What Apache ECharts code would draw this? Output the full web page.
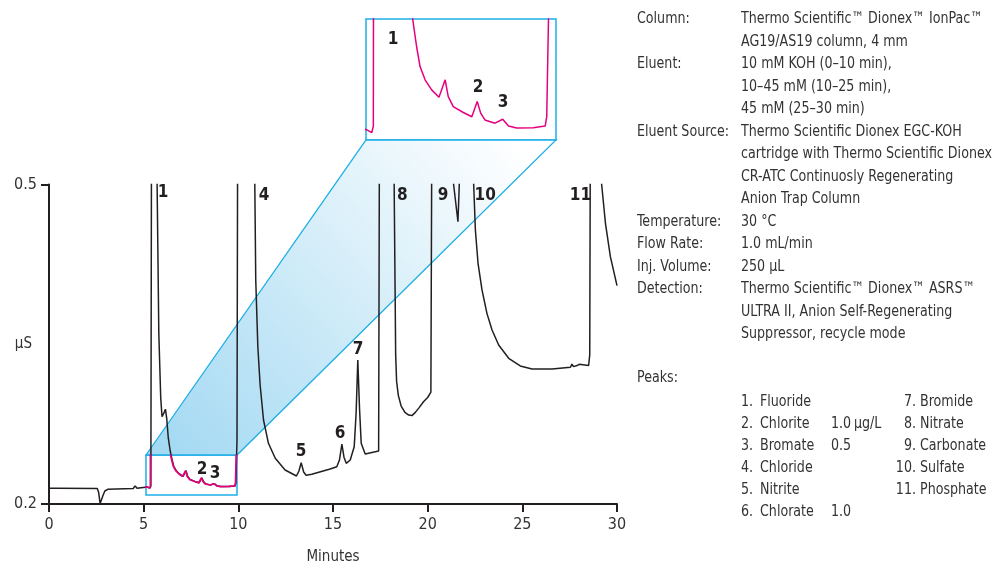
<!DOCTYPE html>
<html>
<head>
<meta charset="utf-8">
<script src="https://cdn.jsdelivr.net/npm/echarts@6/dist/echarts.min.js"></script>
<style>
html,body{margin:0;padding:0;background:#fff;}
#chart{width:999px;height:565px;}
</style>
</head>
<body>
<div id="chart"></div>
<script>
// ---- data ----
const minutes = [
  0.00, 0.25, 0.32, 0.40, 2.55, 2.62, 2.70, 2.78, 2.86, 2.95, 3.10, 4.45, 4.55, 4.65,
  5.19, 5.34, 5.38, 5.42, 5.55, 5.68, 5.71, 5.80, 5.90, 5.97, 6.06, 6.15, 6.22, 6.30,
  6.40, 6.50, 6.59, 6.72, 6.89, 7.08, 7.24, 7.32, 7.45, 7.71, 7.93, 8.07, 8.16, 8.27,
  8.53, 8.73, 8.88, 9.09, 9.52, 9.83, 9.87, 9.93, 9.97, 10.40, 10.84, 10.87, 10.92,
  11.03, 11.15, 11.33, 11.59, 11.95, 12.47, 13.07, 13.20, 13.32, 13.45, 13.58, 13.88, 14.85,
  15.20, 15.34, 15.47, 15.58, 15.70, 15.91, 16.12, 16.22, 16.31, 16.40, 16.49, 16.70,
  17.41, 17.46, 17.85, 18.20, 18.23, 18.28, 18.31, 18.36, 18.45, 18.60, 18.80, 19.00,
  19.17, 19.35, 19.55, 19.78, 20.00, 20.17, 20.23, 20.60, 21.30, 21.37, 21.60, 21.67,
  21.70, 22.00, 22.40, 22.43, 22.52, 22.66, 22.87, 23.13, 23.40, 23.75, 24.28, 24.89,
  25.51, 26.57, 27.54, 27.62, 27.70, 27.89, 28.00, 28.06, 28.50, 28.56, 28.60, 28.90,
  29.16, 29.19, 29.39, 29.65, 30.00
];
const microS = [
  0.2147, 0.2147, 0.2163, 0.2147, 0.2145, 0.2110, 0.2005, 0.2010, 0.2085, 0.2122, 0.2138, 0.2145, 0.2170, 0.2148,
  0.2160, 0.2150, 0.2170, 0.6, 3.0, 0.6, 0.50, 0.36, 0.300, 0.282, 0.285, 0.289, 0.280, 0.262,
  0.2500, 0.2416, 0.2354, 0.2313, 0.2282, 0.2259, 0.2313, 0.2261, 0.2230, 0.2212, 0.2199, 0.2246, 0.2210, 0.2189,
  0.2179, 0.2191, 0.2170, 0.2164, 0.2165, 0.2170, 0.2199, 0.2600, 0.6, 3.0, 0.6, 0.50, 0.4103,
  0.3477, 0.3120, 0.2789, 0.2570, 0.2429, 0.2319, 0.2263, 0.2310, 0.2388, 0.2300, 0.2270, 0.2279, 0.2329,
  0.2350, 0.2413, 0.2563, 0.2440, 0.2382, 0.2413, 0.2538, 0.2850, 0.3352, 0.2900, 0.2570, 0.2469,
  0.2498, 0.6, 3.0, 0.6, 0.50, 0.40, 0.34, 0.315, 0.302, 0.292, 0.286, 0.2835,
  0.2830, 0.2860, 0.2905, 0.2960, 0.3000, 0.3050, 0.6, 3.0, 0.6, 0.50, 0.465, 0.50,
  0.6, 3.0, 0.6, 0.50, 0.4573, 0.4260, 0.4010, 0.3790, 0.3634, 0.3493, 0.3368, 0.3296,
  0.3268, 0.3268, 0.3284, 0.3314, 0.3290, 0.3300, 0.3312, 0.3300, 0.3300, 0.3400, 0.6, 3.0,
  0.6, 0.50, 0.4636, 0.4322, 0.4050
];
const xTicks = [0, 5, 10, 15, 20, 25, 30];
const yTicks = [0.2, 0.5];
const mainPeakLabels = ['1', '4', '5', '6', '7', '8', '9', '10', '11', '2', '3'];
const insetPeakLabels = ['1', '2', '3'];

const conditions = [
  ['Column:', 'Thermo Scientific\u2122 Dionex\u2122 IonPac\u2122'],
  ['', 'AG19/AS19 column, 4 mm'],
  ['Eluent:', '10 mM KOH (0\u201310 min),'],
  ['', '10\u201345 mM (10\u201325 min),'],
  ['', '45 mM (25\u201330 min)'],
  ['Eluent Source:', 'Thermo Scientific Dionex EGC-KOH'],
  ['', 'cartridge with Thermo Scientific Dionex'],
  ['', 'CR-ATC Continuosly Regenerating'],
  ['', 'Anion Trap Column'],
  ['Temperature:', '30 \u00B0C'],
  ['Flow Rate:', '1.0 mL/min'],
  ['Inj. Volume:', '250 \u00B5L'],
  ['Detection:', 'Thermo Scientific\u2122 Dionex\u2122 ASRS\u2122'],
  ['', 'ULTRA II, Anion Self-Regenerating'],
  ['', 'Suppressor, recycle mode']
];
const peaksLeft = [
  ['1.', 'Fluoride', '', ''],
  ['2.', 'Chlorite', '1.0', '\u00B5g/L'],
  ['3.', 'Bromate', '0.5', ''],
  ['4.', 'Chloride', '', ''],
  ['5.', 'Nitrite', '', ''],
  ['6.', 'Chlorate', '1.0', '']
];
const peaksRight = [
  ['7.', 'Bromide'],
  ['8.', 'Nitrate'],
  ['9.', 'Carbonate'],
  ['10.', 'Sulfate'],
  ['11.', 'Phosphate']
];

// ---- layout / style ----
const FONT = '"Liberation Sans Narrow", "DejaVu Sans Condensed", "Roboto", sans-serif';
const BLACK = '#231f20';
const PINK = '#e6007e';
const CYAN = '#1daee6';
const TXT = '#333333';
const SX = 0.88; // horizontal squeeze for the condensed look of the notes

const main = { left: 49, top: 184.5, width: 568, height: 319.5 };
const box = { left: 146, top: 455, width: 91, height: 40 };
const inset = { left: 366, top: 19, width: 190, height: 121 };

// label anchor positions in data coordinates (not data values)
const mainLabelAnchors = [
  [6.03, 0.492], [11.36, 0.490], [13.32, 0.249], [15.38, 0.266], [16.33, 0.3446],
  [18.66, 0.490], [20.82, 0.490], [23.04, 0.490], [28.07, 0.490], [8.09, 0.232], [8.77, 0.229]
];
const insetLabelAnchors = [[5.89, 0.2437], [8.09, 0.2288], [8.74, 0.2242]];

const series = minutes.map((t, i) => [t, microS[i]]);

const chart = echarts.init(document.getElementById('chart'), null, { renderer: 'canvas' });

const graphics = [];
// zoom connector (parallelogram)
graphics.push({
  type: 'polygon',
  z: 1,
  shape: {
    points: [
      [box.left, box.top],
      [inset.left, inset.top + inset.height],
      [inset.left + inset.width, inset.top + inset.height],
      [box.left + box.width, box.top]
    ]
  },
  style: {
    fill: {
      type: 'linear', global: true,
      x: box.left + 20, y: box.top, x2: inset.left + inset.width - 40, y2: inset.top + inset.height,
      colorStops: [
        { offset: 0, color: '#a3d9f3' },
        { offset: 0.55, color: '#d6eef9' },
        { offset: 1, color: '#ffffff' }
      ]
    },
    stroke: CYAN,
    lineWidth: 1.3
  }
});

function note(text, x, y, align) {
  graphics.push({
    type: 'text', z: 5, x: x, y: y, scaleX: SX, scaleY: 1,
    style: { text: text, x: 0, y: 0, font: '16px ' + FONT, fill: TXT, verticalAlign: 'middle', align: align || 'left' }
  });
}

// conditions text
const lineH = 22.5;
conditions.forEach((row, i) => {
  const y = 19 + i * lineH;
  if (row[0]) note(row[0], 637, y);
  note(row[1], 741, y);
});
note('Peaks:', 637, 378);
peaksLeft.forEach((row, i) => {
  const y = 401.5 + i * 22.1;
  note(row[0], 741, y);
  note(row[1], 760, y);
  if (row[2]) note(row[2], 831, y);
  if (row[3]) note(row[3], 854, y);
});
peaksRight.forEach((row, i) => {
  const y = 401.5 + i * 22.1;
  note(row[0], 916, y, 'right');
  note(row[1], 920, y);
});

const labelStyle = {
  show: true, position: 'inside', formatter: p => p.data.name, opacity: 1,
  color: BLACK, fontFamily: FONT, fontWeight: 'bold', fontSize: 17
};

const option = {
  animation: false,
  backgroundColor: '#fff',
  grid: [
    Object.assign({}, main, { show: false, outerBoundsMode: 'none', containLabel: false }),
    Object.assign({}, box, { show: true, borderColor: CYAN, borderWidth: 1.5, backgroundColor: 'transparent', z: 0, outerBoundsMode: 'none' }),
    Object.assign({}, inset, { show: true, borderColor: CYAN, borderWidth: 1.5, backgroundColor: '#ffffff', z: 0, outerBoundsMode: 'none' })
  ],
  xAxis: [
    {
      gridIndex: 0, type: 'value', min: xTicks[0], max: xTicks[xTicks.length - 1], interval: 5,
      name: 'Minutes', nameLocation: 'middle', nameGap: 46, nameMoveOverlap: false,
      nameTextStyle: { fontFamily: FONT, fontSize: 15, color: TXT },
      axisLine: { show: true, onZero: false, lineStyle: { color: BLACK, width: 2 } },
      axisTick: { show: true, length: 8, lineStyle: { color: BLACK, width: 2 } },
      axisLabel: { fontFamily: FONT, fontSize: 16, color: TXT, margin: 13 },
      splitLine: { show: false }
    },
    { gridIndex: 1, type: 'value', min: 5.15, max: 9.95, show: false },
    { gridIndex: 2, type: 'value', min: 5.19, max: 10.11, show: false }
  ],
  yAxis: [
    {
      gridIndex: 0, type: 'value', min: 0.2, max: 0.5,
      name: '\u00B5S', nameLocation: 'middle', nameRotate: 0, nameGap: 17, nameMoveOverlap: false,
      nameTextStyle: { fontFamily: FONT, fontSize: 15, color: TXT },
      axisLine: { show: true, onZero: false, lineStyle: { color: BLACK, width: 2 } },
      axisTick: { show: true, length: 8, lineStyle: { color: BLACK, width: 2 }, customValues: yTicks },
      axisLabel: { fontFamily: FONT, fontSize: 16, color: TXT, margin: 12, customValues: yTicks, formatter: v => v.toFixed(1) },
      splitLine: { show: false }
    },
    { gridIndex: 1, type: 'value', min: 0.2085, max: 0.246, show: false },
    { gridIndex: 2, type: 'value', min: 0.2127, max: 0.2501, show: false }
  ],
  graphic: graphics,
  series: [
    {
      type: 'line', xAxisIndex: 0, yAxisIndex: 0, data: series, showSymbol: false, clip: true,
      lineStyle: { color: BLACK, width: 1.5 }, z: 3, silent: true
    },
    {
      type: 'line', xAxisIndex: 1, yAxisIndex: 1, data: series, showSymbol: false, clip: true,
      lineStyle: { color: PINK, width: 1.7 }, z: 4, silent: true
    },
    {
      type: 'line', xAxisIndex: 2, yAxisIndex: 2, data: series, showSymbol: false, clip: true,
      lineStyle: { color: PINK, width: 1.5 }, z: 4, silent: true
    },
    {
      type: 'scatter', xAxisIndex: 0, yAxisIndex: 0, symbolSize: 0, clip: false, z: 6, silent: true,
      itemStyle: { opacity: 1 },
      data: mainPeakLabels.map((n, i) => ({ name: n, value: mainLabelAnchors[i] })),
      label: labelStyle
    },
    {
      type: 'scatter', xAxisIndex: 2, yAxisIndex: 2, symbolSize: 0, clip: false, z: 6, silent: true,
      itemStyle: { opacity: 1 },
      data: insetPeakLabels.map((n, i) => ({ name: n, value: insetLabelAnchors[i] })),
      label: labelStyle
    }
  ]
};
chart.setOption(option);
</script>
</body>
</html>
